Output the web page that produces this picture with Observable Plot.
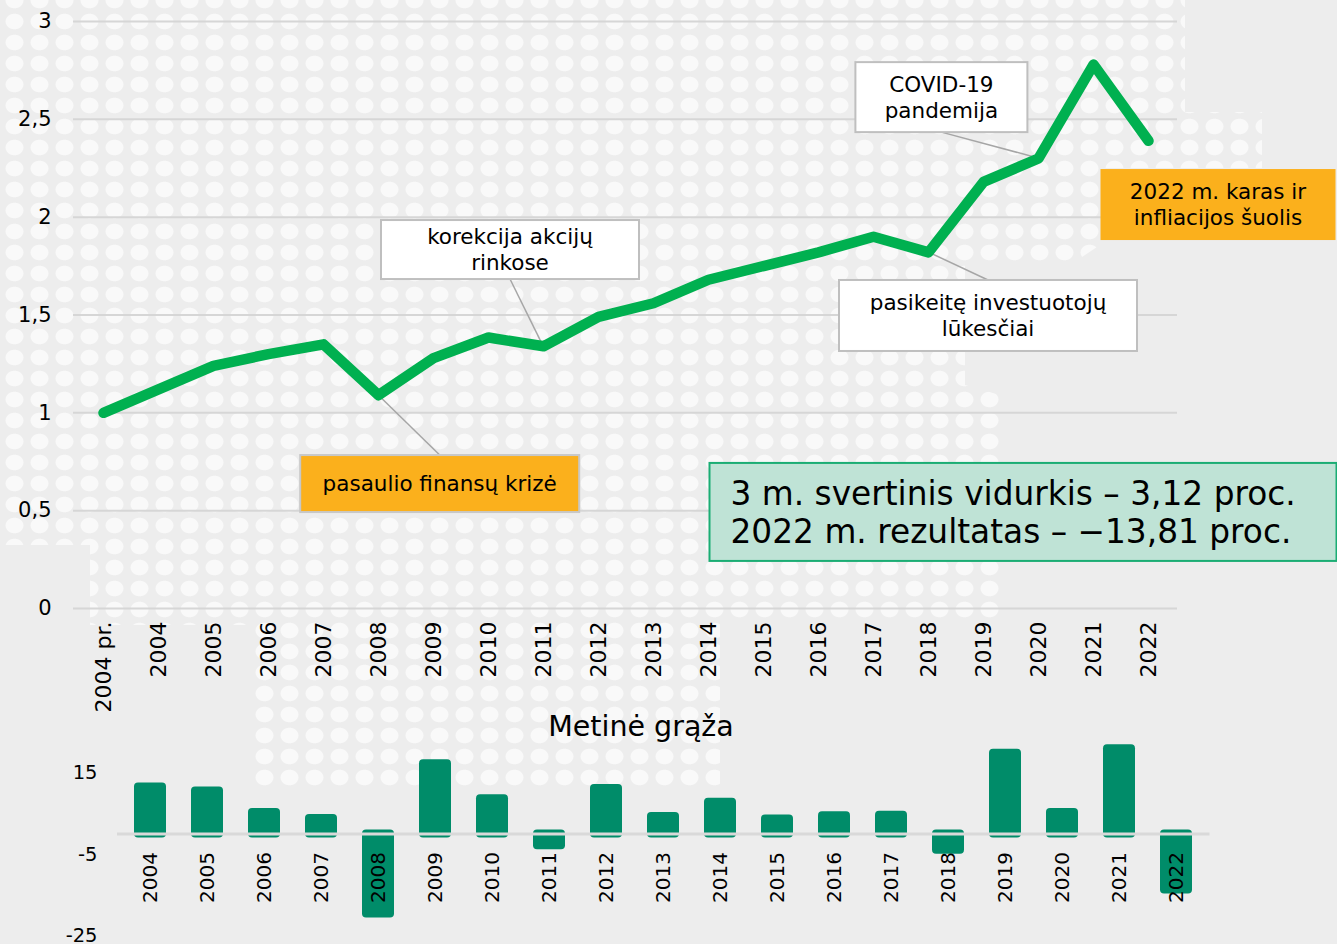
<!DOCTYPE html>
<html><head><meta charset="utf-8">
<script src="https://cdn.jsdelivr.net/npm/d3@7"></script>
<script src="https://cdn.jsdelivr.net/npm/@observablehq/plot@0.6"></script>
<style>
body{margin:0;background:#ededed;font-family:"DejaVu Sans",Verdana,sans-serif;}
#wrap{position:relative;width:1337px;height:944px;overflow:hidden;background:#ededed;}
#dots{position:absolute;left:0;top:0;width:1337px;height:944px;
 background-image:radial-gradient(ellipse 9.5px 8.3px at center, #f9f9f9 88%, rgba(249,249,249,0) 100%);
 background-size:25px 21px;background-position:2px 11px;
 clip-path:polygon(0 0,1185px 0,1185px 112px,1262px 112px,1262px 168px,1100px 168px,1100px 245px,1070px 265px,965px 265px,965px 385px,1000px 395px,1000px 620px,720px 620px,720px 790px,250px 790px,250px 625px,90px 625px,90px 545px,0 545px);}
#topChart,#bottomChart{position:absolute;left:0;}
#topChart{top:0}
#bottomChart{top:700px}
#title{position:absolute;left:0;top:709px;width:1282px;height:36px;line-height:36px;text-align:center;font-size:28.5px;color:#000;}
</style></head>
<body><div id="wrap"><div id="dots"></div><div id="topChart"></div><div id="title">Metinė grąža</div><div id="bottomChart"></div></div>
<script>
// ---- data ----
const lineCategories = ["2004 pr.","2004","2005","2006","2007","2008","2009","2010","2011","2012","2013","2014","2015","2016","2017","2018","2019","2020","2021","2022"];
const lineValues = [1.00,1.12,1.24,1.30,1.35,1.09,1.28,1.385,1.34,1.49,1.56,1.68,1.75,1.82,1.90,1.82,2.18,2.30,2.78,2.39];
const barYears = ["2004","2005","2006","2007","2008","2009","2010","2011","2012","2013","2014","2015","2016","2017","2018","2019","2020","2021","2022"];
const barValues = [11.6,10.6,5.3,3.8,-19.7,17.3,8.7,-2.9,11.2,4.3,7.8,3.7,4.5,4.6,-4.0,19.9,5.3,21.0,-13.8];
const lineTicks = [0,0.5,1,1.5,2,2.5,3];
const barTicks = [-25,-5,15];
const annotationTexts = [
  ["korekcija akcijų","rinkose"],
  ["pasaulio finansų krizė"],
  ["COVID-19","pandemija"],
  ["pasikeitę investuotojų","lūkesčiai"],
  ["2022 m. karas ir","infliacijos šuolis"],
  ["3 m. svertinis vidurkis – 3,12 proc.","2022 m. rezultatas – −13,81 proc."]
];

// ---- annotation layout (box centre in data space, anchor point for leader) ----
const annLayout = [
  {anchor:"2011", x:"2010", dx:22, y:1.832, w:258, h:59, fill:"#ffffff", stroke:"#bfbfbf", size:21.5, lh:26},
  {anchor:"2008", x:"2009", dx:6.7, y:0.636, w:279, h:57, fill:"#fbb01c", stroke:"#c8c8c8", size:21.5, lh:26, leadTop:true},
  {anchor:"2020", x:"2018", dx:13.4, y:2.611, w:172, h:70, fill:"#ffffff", stroke:"#bfbfbf", size:21.5, lh:26},
  {anchor:"2018", x:"2019", dx:5, y:1.495, w:298, h:71, fill:"#ffffff", stroke:"#bfbfbf", size:21.5, lh:26, leadTop:true},
  {anchor:null, x:"2022", dx:70, y:2.062, w:235, h:71, fill:"#fbb01c", stroke:"none", size:21.5, lh:26},
  {anchor:null, x:"2019", dx:40, y:0.491, w:627, h:98, fill:"#bfe3d6", stroke:"#1aad74", size:32.8, lh:38, left:21}
];
const fmtComma = d => String(d).replace(".", ",");
const FONT = "DejaVu Sans, Verdana, sans-serif";
const lineData = lineCategories.map((c,i)=>({c, v:lineValues[i]}));

function leaderMark(index, scales, values, dimensions) {
  const g = d3.create("svg:g");
  annLayout.forEach((a,i) => {
    if (!a.anchor) return;
    const cx = scales.x(a.x) + a.dx, cy = scales.y(a.y);
    const y0 = cy - a.h/2;
    const j = lineCategories.indexOf(a.anchor);
    g.append("line").attr("x1", scales.x(a.anchor)).attr("y1", scales.y(lineValues[j]))
      .attr("x2", cx).attr("y2", a.leadTop ? y0 : y0 + a.h)
      .attr("stroke", "#a6a6a6").attr("stroke-width", 1.5);
  });
  return g.node();
}
function boxMark(index, scales, values, dimensions) {
  const g = d3.create("svg:g").attr("font-family", FONT);
  annLayout.forEach((a,i) => {
    const cx = scales.x(a.x) + a.dx, cy = scales.y(a.y);
    const x0 = cx - a.w/2, y0 = cy - a.h/2;
    g.append("rect").attr("x", x0).attr("y", y0).attr("width", a.w).attr("height", a.h)
      .attr("fill", a.fill).attr("stroke", a.stroke).attr("stroke-width", a.stroke==="none"?0:2);
    const lines = annotationTexts[i];
    lines.forEach((t,k) => {
      const ty = cy + (k - (lines.length-1)/2) * a.lh;
      g.append("text").attr("x", a.left ? x0 + a.left : cx).attr("y", ty)
        .attr("dy", "0.36em").attr("text-anchor", a.left ? "start" : "middle")
        .attr("font-size", a.size).attr("fill", "#000").text(t);
    });
  });
  return g.node();
}

const topPlot = Plot.plot({
  width: 1337, height: 720,
  marginLeft: 73, marginRight: 160, marginTop: 21, marginBottom: 112,
  style: {background: "transparent", fontFamily: FONT, color: "#000", overflow: "visible"},
  x: {type: "point", domain: lineCategories, padding: 0.5},
  y: {domain: [0, 3]},
  marks: [
    Plot.ruleY(lineTicks, {stroke: "#d6d6d6", strokeWidth: 2}),
    Plot.axisY(lineTicks, {tickSize: 0, tickPadding: 22, tickFormat: fmtComma, fontSize: 21, label: null}),
    Plot.axisX({tickSize: 0, tickPadding: 13, tickRotate: -90, fontSize: 22, label: null}),
    leaderMark,
    Plot.line(lineData, {x: "c", y: "v", stroke: "#00b050", strokeWidth: 10.5, strokeLinecap: "round", strokeLinejoin: "round"}),
    boxMark
  ]
});
document.getElementById("topChart").appendChild(topPlot);

const barData = barYears.map((y,i)=>({y, v:barValues[i]}));
const bottomPlot = Plot.plot({
  width: 1337, height: 244,
  marginLeft: 117, marginRight: 127.5, marginTop: 32, marginBottom: 9,
  style: {background: "transparent", fontFamily: FONT, color: "#000", overflow: "visible"},
  x: {type: "band", domain: barYears, paddingInner: 0.44, paddingOuter: 0.22, axis: null},
  y: {domain: [-25, 25]},
  marks: [
    Plot.barY(barData, {x: "y", y: "v", fill: "#008c69", rx: 4, insetTop: -4, insetBottom: -4}),
    Plot.ruleY([0], {stroke: "#d9d9d9", strokeWidth: 3}),
    Plot.axisY(barTicks, {tickSize: 0, tickPadding: 20, tickFormat: d => String(d), fontSize: 19.5, label: null}),
    Plot.text(barYears, {x: d => d, y: 0, text: d => d, rotate: -90, textAnchor: "end", dy: 18, fontSize: 20, fill: "#000"})
  ]
});
document.getElementById("bottomChart").appendChild(bottomPlot);
</script></body></html>
